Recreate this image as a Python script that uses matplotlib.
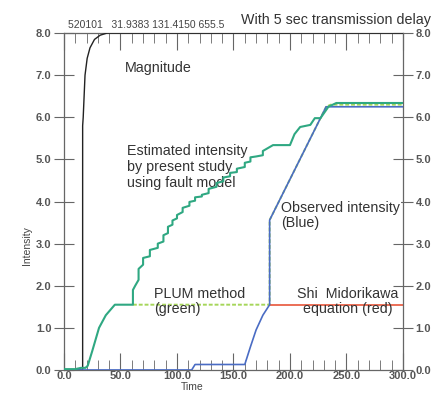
import matplotlib
matplotlib.use("Agg")
import matplotlib.pyplot as plt
from matplotlib.ticker import MultipleLocator

plt.rcParams["font.family"] = ["Liberation Sans", "DejaVu Sans"]

# --- data ------------------------------------------------------------------- #
mag_t = [0, 16.5, 16.5, 17.0, 18.6, 20.5, 23, 27, 32, 38, 300]
mag_v = [0.0, 0.0, 5.8, 6.0, 7.0, 7.4, 7.65, 7.85, 7.95, 8.0, 8.0]

est_t = [0, 10, 15, 19, 21, 25, 31, 37, 45, 61, 61, 63, 66, 66, 70, 70, 76, 76,
         83, 83, 88, 88, 92, 92, 96, 96, 100, 100, 105, 105, 111, 111, 116,
         116, 122, 122, 128, 128, 135, 135, 141, 141, 147, 147, 153, 153, 160,
         160, 165, 165, 170, 176, 176, 185, 200, 204, 209, 218, 222, 227, 234,
         241, 300]
est_v = [0.02, 0.02, 0.05, 0.05, 0.1, 0.45, 1.0, 1.3, 1.55, 1.55, 1.9, 2.0,
         2.14, 2.4, 2.5, 2.66, 2.7, 2.85, 2.9, 3.0, 3.05, 3.2, 3.25, 3.4, 3.45,
         3.55, 3.6, 3.68, 3.75, 3.85, 3.9, 3.99, 4.02, 4.1, 4.12, 4.16, 4.2,
         4.3, 4.35, 4.44, 4.48, 4.57, 4.6, 4.68, 4.7, 4.78, 4.82, 4.92, 4.95,
         5.05, 5.07, 5.1, 5.2, 5.34, 5.34, 5.6, 5.77, 5.82, 5.98, 5.98, 6.25,
         6.34, 6.34]

obs_t = [0, 113, 116, 160, 165, 170, 176, 182, 182, 232, 300]
obs_v = [0.0, 0.0, 0.13, 0.13, 0.55, 0.95, 1.3, 1.55, 3.56, 6.25, 6.25]

plum_t = [61, 182, 182, 232, 236, 300]
plum_v = [1.55, 1.55, 3.56, 6.25, 6.3, 6.3]

shi_t = [182, 300]
shi_v = [1.55, 1.55]

GREEN = "#2fa882"
BLUE = "#4a6cc4"
LIGHT_GREEN = "#a6d65a"
RED = "#e8553a"
AXIS_GREY = "#666666"

fig = plt.figure(figsize=(4.46, 3.94), dpi=100)
ax = fig.add_axes([0.1435, 0.061, 0.760, 0.855])

ax.plot(mag_t, mag_v, color="#222222", lw=1.0, zorder=3)
ax.plot(plum_t, plum_v, color=LIGHT_GREEN, lw=1.4, ls=(0, (2, 1)), zorder=2)
ax.plot(shi_t, shi_v, color=RED, lw=1.2, zorder=2)
ax.plot(obs_t, obs_v, color=BLUE, lw=1.2, zorder=3)
ax.plot(est_t, est_v, color=GREEN, lw=1.5, zorder=4)

ax.set_xlim(0, 300)
ax.set_ylim(0, 8)

# --- ticks ------------------------------------------------------------------- #
ax.xaxis.set_major_locator(MultipleLocator(50))
ax.xaxis.set_minor_locator(MultipleLocator(10))
ax.yaxis.set_major_locator(MultipleLocator(1))
ax.xaxis.set_major_formatter(lambda v, p: f"{v:.1f}")
ax.yaxis.set_major_formatter(lambda v, p: f"{v:.1f}")
ax.tick_params(axis="x", which="major", direction="in", length=12, top=True,
               labelsize=8, colors=AXIS_GREY, labelcolor="#555555", pad=1)
ax.tick_params(axis="x", which="minor", direction="in", length=7, top=True,
               colors=AXIS_GREY)
ax.tick_params(axis="y", which="major", direction="inout", length=14,
               right=True, labelright=True, labelsize=8, colors=AXIS_GREY,
               labelcolor="#555555", pad=2)
for lbl in ax.get_xticklabels() + ax.get_yticklabels():
    lbl.set_fontweight("bold")
for sp in ax.spines.values():
    sp.set_color(AXIS_GREY)
    sp.set_linewidth(0.9)

ax.set_xlabel("Time", fontsize=7.5, color="#444444")
ax.set_ylabel("Intensity", fontsize=7.5, color="#444444")
ax.xaxis.set_label_coords(0.378, -0.035)
ax.yaxis.set_label_coords(-0.095, 0.37)

# --- annotations ------------------------------------------------------------- #
txt = dict(fontsize=10.3, color="#333333")
ax.text(54, 7.17, "Magnitude", va="center", ha="left", **txt)
ax.text(56, 4.82, "Estimated intensity\nby present study\nusing fault model",
        va="center", ha="left", linespacing=1.15, **txt)
ax.text(192, 3.66, "Observed intensity\n(Blue)", va="center", ha="left",
        linespacing=1.1, zorder=5,
        bbox=dict(facecolor="white", edgecolor="none", pad=0.5), **txt)
ax.text(80, 1.62, "PLUM method\n(green)", va="center", ha="left",
        linespacing=1.1, **txt)
ax.text(251, 1.62, "Shi  Midorikawa\nequation (red)", va="center",
        ha="center", linespacing=1.1, **txt)

fig.text(0.152, 0.925, "520101   31.9383 131.4150 655.5", fontsize=7.5,
         color="#444444", ha="left", va="bottom")
fig.text(0.965, 0.932, "With 5 sec transmission delay", fontsize=10.3,
         color="#333333", ha="right", va="bottom")

fig.savefig("out.png", dpi=100, facecolor="white")
plt.close(fig)
